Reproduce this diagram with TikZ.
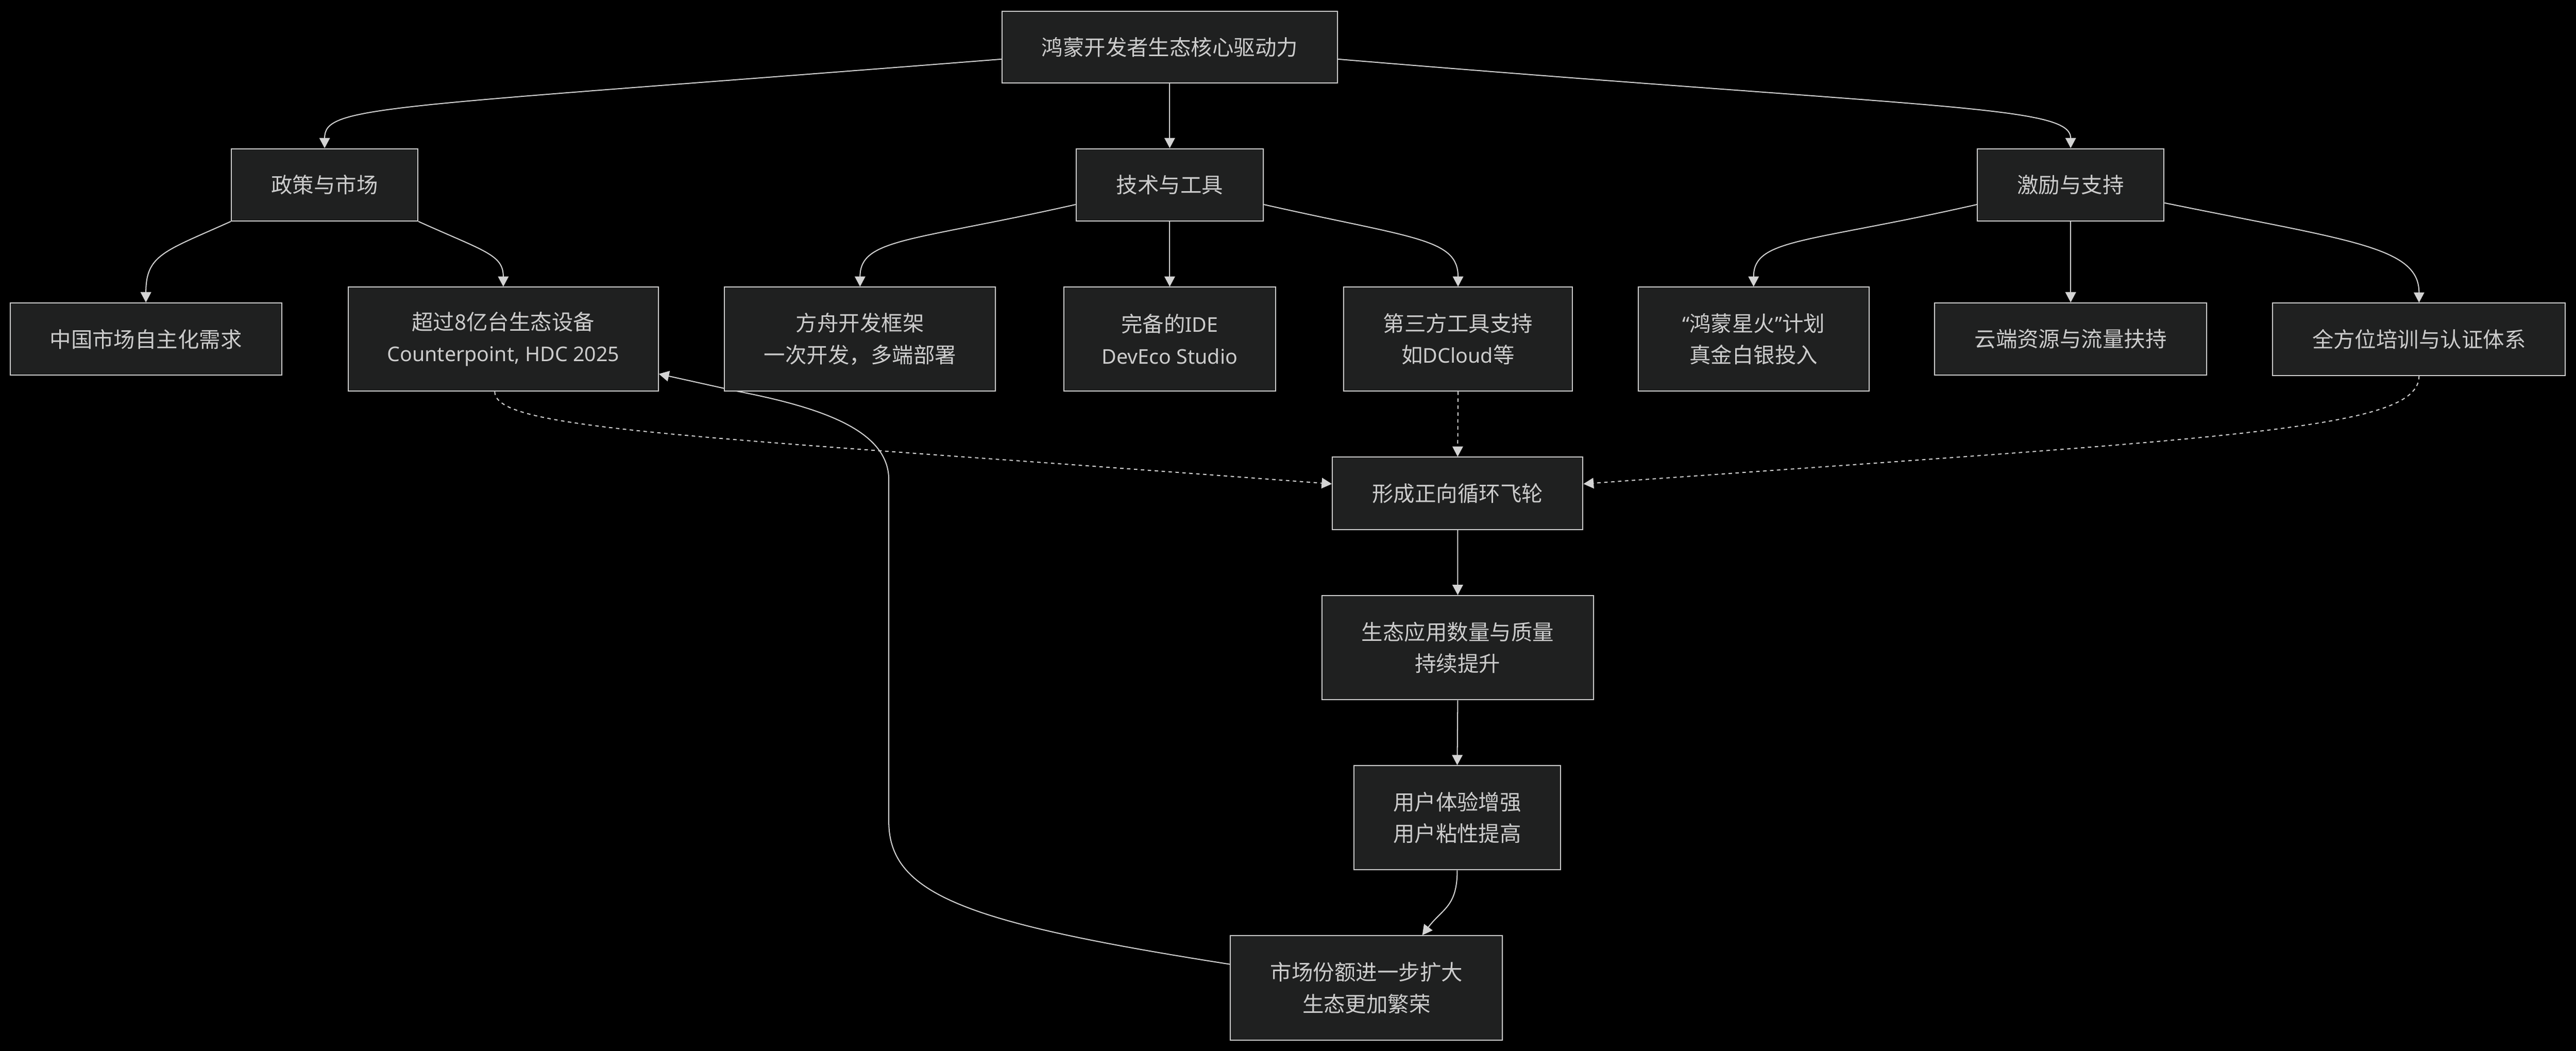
\documentclass[tikz,border=0pt]{standalone}
\usepackage{fontspec}
\setmainfont{Noto Sans CJK SC}
\newfontfamily\lat[Scale=0.95]{Noto Sans}
\usetikzlibrary{arrows.meta,calc}
\definecolor{boxfill}{HTML}{1F2020}
\definecolor{boxline}{HTML}{CCCCCC}
\definecolor{txtcol}{HTML}{CCCCCC}
\definecolor{edgecol}{HTML}{D3D3D3}
\pgfdeclarelayer{back}
\pgfdeclarelayer{edges}
\pgfsetlayers{back,edges,main}
\begin{document}
\begin{tikzpicture}[x=0.1cm,y=-0.1cm,
  box/.style={draw=boxline, fill=boxfill, line width=1.8pt, text=txtcol, inner sep=0pt, align=center, font=\fontsize{37}{55}\selectfont},
  flow/.style={draw=edgecol, line width=1.8pt, -{Triangle[length=0.62cm,width=0.64cm]}},
  dotflow/.style={flow, dash pattern=on 6pt off 6pt}]
\useasboundingbox (0,0) rectangle (1568,639.6);
\begin{pgfonlayer}{back}
\fill[black] (0,0) rectangle (1568,639.6);
\end{pgfonlayer}
% nodes
\node[box, minimum width=20.4cm, minimum height=4.36cm] (T) at (712,28.7) {鸿蒙开发者生态核心驱动力};
\node[box, minimum width=11.36cm, minimum height=4.4cm] (A) at (197.6,112.5) {政策与市场};
\node[box, minimum width=11.4cm, minimum height=4.4cm] (B) at (712,112.5) {技术与工具};
\node[box, minimum width=11.36cm, minimum height=4.4cm] (C) at (1260.4,112.5) {激励与支持};
\node[box, minimum width=16.52cm, minimum height=4.4cm] (A1) at (88.8,206.4) {中国市场自主化需求};
\node[box, minimum width=18.87cm, minimum height=6.32cm] (A2) at (306.35,206.4) {超过8亿台生态设备\\{\lat Counterpoint, HDC 2025}};
\node[box, minimum width=16.5cm, minimum height=6.32cm] (B1) at (523.5,206.4) {方舟开发框架\\一次开发，多端部署};
\node[box, minimum width=12.9cm, minimum height=6.32cm] (B2) at (712,206.4) {完备的{\lat IDE}\\{\lat DevEco Studio}};
\node[box, minimum width=13.9cm, minimum height=6.32cm] (B3) at (887.5,206.4) {第三方工具支持\\如{\lat DCloud}等};
\node[box, minimum width=14.04cm, minimum height=6.32cm] (C1) at (1067.4,206.4) {{\lat “}鸿蒙星火{\lat ”}计划\\真金白银投入};
\node[box, minimum width=16.56cm, minimum height=4.4cm] (C2) at (1260.4,206.4) {云端资源与流量扶持};
\node[box, minimum width=17.81cm, minimum height=4.4cm] (C3) at (1472.45,206.5) {全方位培训与认证体系};
\node[box, minimum width=15.25cm, minimum height=4.41cm] (F) at (887.25,300.35) {形成正向循环飞轮};
\node[box, minimum width=16.54cm, minimum height=6.35cm] (G) at (887.3,394.25) {生态应用数量与质量\\持续提升};
\node[box, minimum width=12.6cm, minimum height=6.34cm] (H) at (887,497.75) {用户体验增强\\用户粘性提高};
\node[box, minimum width=16.56cm, minimum height=6.37cm] (M) at (831.8,601.45) {市场份额进一步扩大\\生态更加繁荣};
% bend points of the feedback connector
\coordinate (fb1) at (541,500);
\coordinate (fb2) at (541,292);
\coordinate (fb3) at (448,238);
\begin{pgfonlayer}{edges}
\draw[flow] ($(T.west)+(0,7.3)$) .. controls (230,66) and (197.6,64) .. (A.north);
\draw[flow] (T.south) -- (B.north);
\draw[flow] ($(T.east)+(0,7.3)$) .. controls (1180,66.4) and (1260.4,64) .. (C.north);
\draw[flow] (A.south west) .. controls (100,153) and (88.8,155) .. (A1.north);
\draw[flow] (A.south east) .. controls (295,153) and (306.35,155) .. (A2.north);
\draw[flow] ($(B.west)+(0,12)$) .. controls (555,147) and (523.5,145) .. (B1.north);
\draw[flow] (B.south) -- (B2.north);
\draw[flow] ($(B.east)+(0,12)$) .. controls (860,145) and (887.5,145) .. (B3.north);
\draw[flow] ($(C.west)+(0,12)$) .. controls (1100,148) and (1067.4,145) .. (C1.north);
\draw[flow] (C.south) -- (C2.north);
\draw[flow] ($(C.east)+(0,11)$) .. controls (1430,146.5) and (1472.45,150) .. (C3.north);
\draw[dotflow] ($(A2.south)+(-5.2,0)$) .. controls (301,262) and (420,265) .. ($(F.west)+(0,-5.8)$);
\draw[dotflow] (B3.south) -- (F.north);
\draw[dotflow] (C3.south) .. controls (1472.45,262) and (1360,266) .. ($(F.east)+(0,-5.8)$);
\draw[flow] (F.south) -- (G.north);
\draw[flow] (G.south) -- (H.north);
\draw[flow] (H.south) .. controls (887,552) and (878,553) .. ($(M.north)+(33.9,0)$);
\draw[flow] ($(M.west)+(0,-14.5)$) .. controls (590,562) and (541,545) .. (fb1) -- (fb2) .. controls (541,262) and (500,248) .. (fb3) -- ($(A2.east)+(0,21.2)$);
\end{pgfonlayer}
\end{tikzpicture}
\end{document}
